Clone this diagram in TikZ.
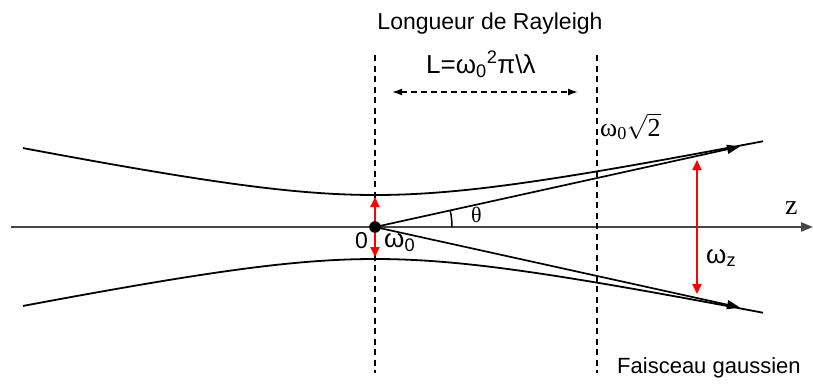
\documentclass[tikz,border=0pt]{standalone}
\usepackage{fontspec}
\setmainfont{Liberation Sans}
\newfontfamily\seriffont{Liberation Serif}
\usetikzlibrary{arrows.meta}
\begin{document}
\begin{tikzpicture}[x=1pt,y=-1pt,
  beam/.style={line width=1.8pt,black},
  guide/.style={line width=1.3pt,dash pattern=on 6pt off 4.5pt},
  redarrow/.style={red,line width=2pt,{Triangle[length=10pt,width=9pt]}-{Triangle[length=10pt,width=9pt]}},
  ray/.style={line width=1.7pt,-{Triangle[length=13pt,width=9pt]}},
  lbl/.style={inner sep=0pt,anchor=base west,font=\fontsize{22}{24}\selectfont},
]
\useasboundingbox (0,0) rectangle (813,383);
% coordinates
\coordinate (O) at (375,227);
\coordinate (axL) at (11,227);
\coordinate (axR) at (813,227);
\coordinate (d1t) at (375,55);
\coordinate (d1b) at (375,373);
\coordinate (d2t) at (597,55);
\coordinate (d2b) at (597,373);
\coordinate (wt) at (375,197);
\coordinate (wb) at (375,257);
\coordinate (zt) at (697,160);
\coordinate (zb) at (697,294);
\coordinate (rt) at (740,146.5);
\coordinate (rb) at (740,307.5);
\coordinate (La) at (392,92);
\coordinate (Lb) at (578,92);
% axis
\draw[line width=2.2pt,black!72,-{Triangle[length=12pt,width=9pt]}] (axL) -- (axR);
% dashed verticals
\draw[guide] (d1t) -- (d1b);
\draw[guide] (d2t) -- (d2b);
% beam envelope
\draw[beam] plot[domain=-352:388,samples=120] ({375+\x},{227-sqrt(1024+(0.205*\x)^2)});
\draw[beam] plot[domain=-352:388,samples=120] ({375+\x},{227+sqrt(1024+(0.205*\x)^2)});
% rays
\draw[ray] (O) -- (rt);
\draw[ray] (O) -- (rb);
% theta arc
\draw[line width=1.5pt] (452,227) arc[start angle=0,end angle=-12.4,radius=77];
% red arrows
\draw[redarrow] (wt) -- (wb);
\draw[redarrow] (zt) -- (zb);
% dashed double arrow
\draw[line width=1.4pt,dash pattern=on 6pt off 4pt,{Latex[length=10pt,width=7pt]}-{Latex[length=10pt,width=7pt]}] (La) -- (Lb);
% origin dot
\fill (O) circle[radius=5.8];
% labels
\node[inner sep=0pt,anchor=base,font=\fontsize{23}{25}\selectfont] (title) at (490,29) {Longueur de Rayleigh};
\node[lbl,font=\fontsize{26}{28}\selectfont] (Lf) at (426,73) {L=ω\textsubscript{0}\textsuperscript{2}π\textbackslash λ};
\node[lbl,font=\seriffont\fontsize{26}{28}\selectfont] (w2) at (600,136) {ω\textsubscript{0}$\mathsurround=0pt\sqrt{\mbox{\fontsize{26}{28}\selectfont 2}}$};
\node[lbl,font=\seriffont\fontsize{22}{24}\selectfont] (th) at (471,222) {θ};
\node[lbl,font=\seriffont\fontsize{28}{30}\selectfont] (zl) at (785,214) {z};
\node[lbl,font=\fontsize{26}{28}\selectfont] (wz) at (706,263) {ω\textsubscript{z}};
\node[lbl,font=\fontsize{23}{25}\selectfont] (zero) at (355,248) {0};
\node[lbl,font=\fontsize{26}{28}\selectfont] (w0) at (384,247) {ω\textsubscript{0}};
\node[lbl] (fg) at (617,373) {Faisceau gaussien};
\end{tikzpicture}
\end{document}
